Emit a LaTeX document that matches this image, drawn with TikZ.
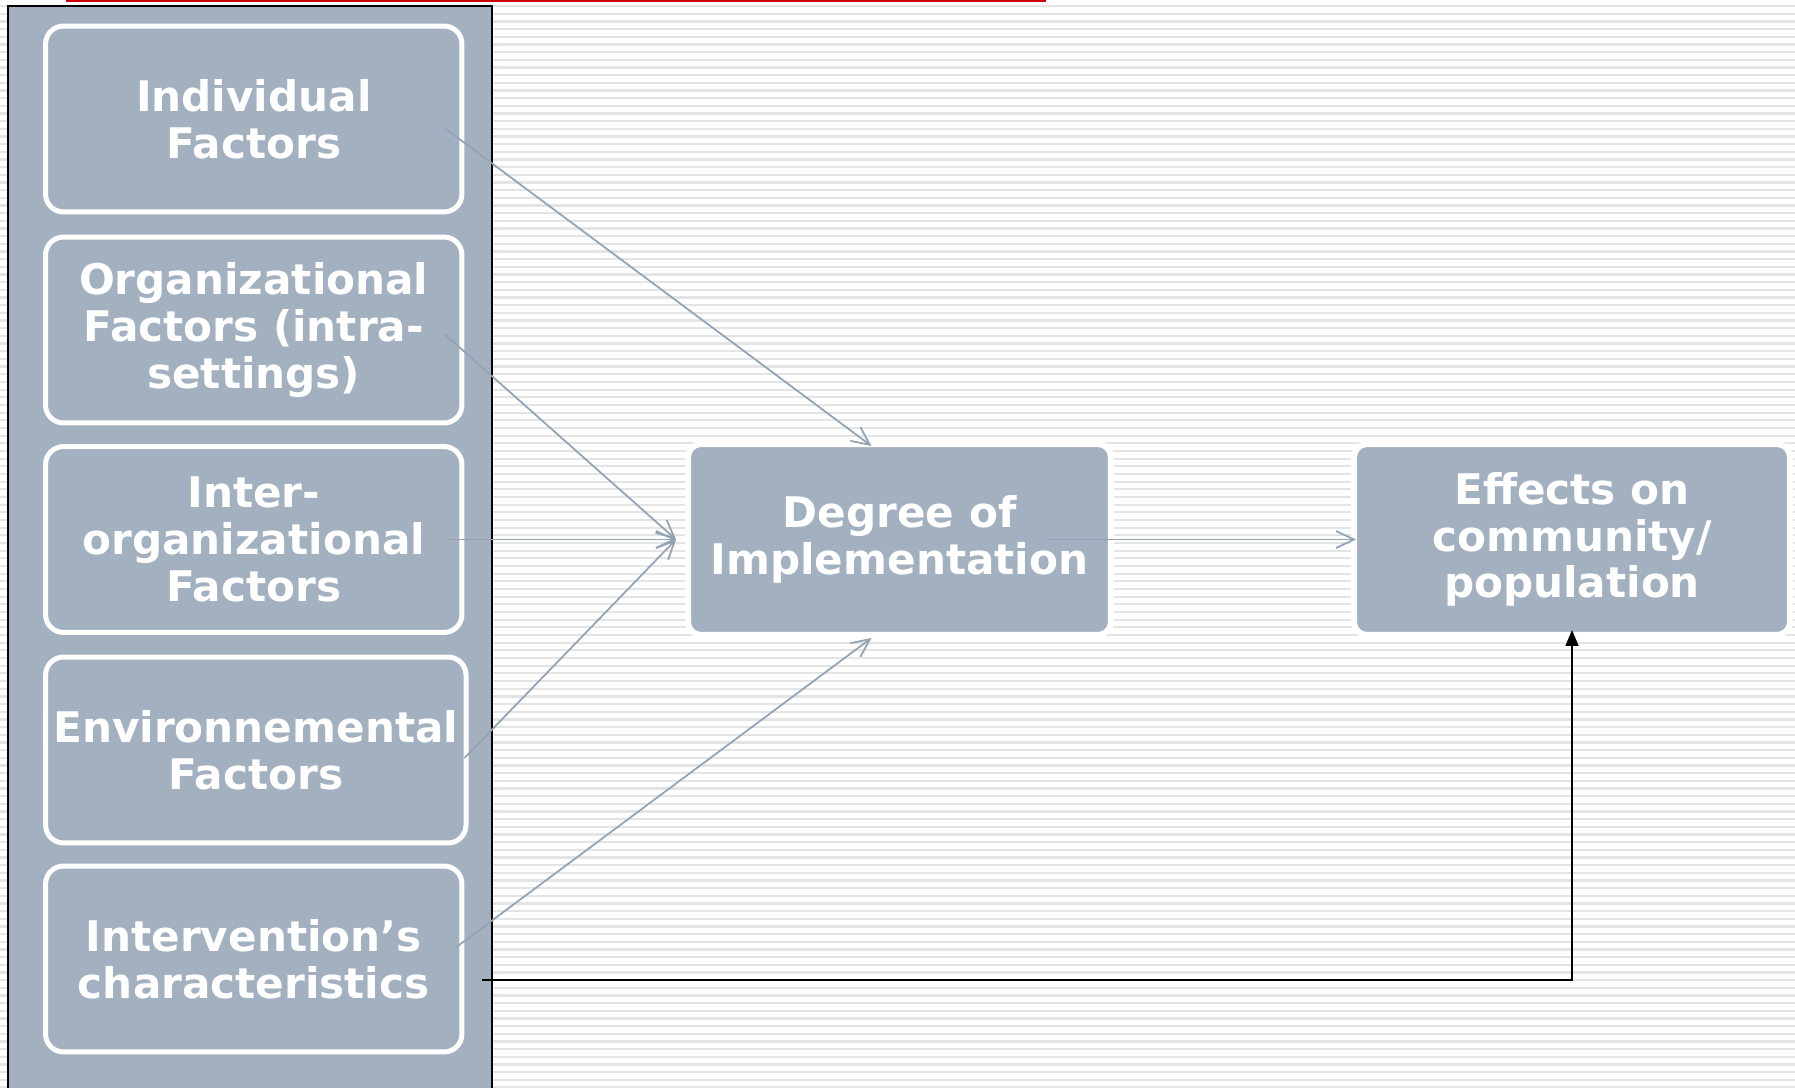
\documentclass[tikz,border=0pt]{standalone}
\usepackage{fontspec}
\setmainfont{DejaVu Sans}
\usetikzlibrary{arrows.meta,calc}
\definecolor{slate}{RGB}{162,176,191}
\definecolor{linkgray}{RGB}{146,163,182}
\definecolor{stripegray}{RGB}{228,228,228}
\definecolor{topred}{RGB}{204,0,0}

\begin{document}
\begin{tikzpicture}[x=0.02cm, y=-0.02cm,
  factor/.style={draw=white, line width=0.1cm, fill=slate, rounded corners=0.36cm,
    minimum width=8.33cm, minimum height=3.72cm, inner sep=0pt, align=center,
    text=white, font=\fontsize{24}{26.6}\selectfont\bfseries},
  stage/.style={factor, line width=0.12cm, minimum width=8.46cm,
    minimum height=3.82cm, rounded corners=0.26cm},
  link/.style={draw=linkgray, line width=1pt, -{Straight Barb[length=0.36cm,width=0.34cm]}},
  direct/.style={draw=black, line width=0.9pt, -{Triangle[length=0.32cm,width=0.26cm]}}]
  \useasboundingbox (0,0) rectangle (1795,1088);
  % striped background
  \fill[white] (0,0) rectangle (1795,1088);
  \foreach \i in {0,...,141}
    \fill[stripegray] (0,{5+7.67*\i}) rectangle (1795,{7.2+7.67*\i});
  \fill[topred] (66,0) rectangle (1046,2.5);
  % left panel
  \draw[fill=slate, line width=1.2pt] (8,6) rectangle (492,1100);
  \node[factor] (ind) at (253.75,119) {Individual\\Factors};
  \node[factor] (org) at (253.75,330) {Organizational\\Factors (intra-\\settings)};
  \node[factor] (inter) at (253.75,539.5) {Inter-\\organizational\\Factors};
  \node[factor, minimum width=8.41cm] (env) at (255.8,750) {Environnemental\\Factors};
  \node[factor] (intv) at (253.75,959) {Intervention’s\\characteristics};
  % outcome chain
  \node[stage] (degree) at (899.5,539.5) {Degree of\\Implementation};
  \node[stage, minimum width=8.72cm] (effects) at (1572,539.5) {Effects on\\community/\\population};
  \coordinate (dwest) at ($(degree.west)+(-9,0)$);
  \coordinate (dtop) at ($(degree.north)+(-28,5)$);
  \coordinate (dbot) at ($(degree.south)+(-28,0)$);
  % arrows
  \draw[link] ($(ind.east)+(-20,9)$) -- (dtop);
  \draw[link] ($(org.east)+(-20,4)$) -- (dwest);
  \draw[link] ($(inter.east)+(-16,0)$) -- (dwest);
  \draw[link] ($(env.east)+(-4,8)$) -- (dwest);
  \draw[link] ($(intv.east)+(-8,-12)$) -- (dbot);
  \draw[link] ($(degree.east)+(-67,0)$) -- ($(effects.west)+(5,0)$);
  \draw[direct] ($(intv.east)+(18,21)$) -| ($(effects.south)+(0,-8)$);
\end{tikzpicture}
\end{document}
